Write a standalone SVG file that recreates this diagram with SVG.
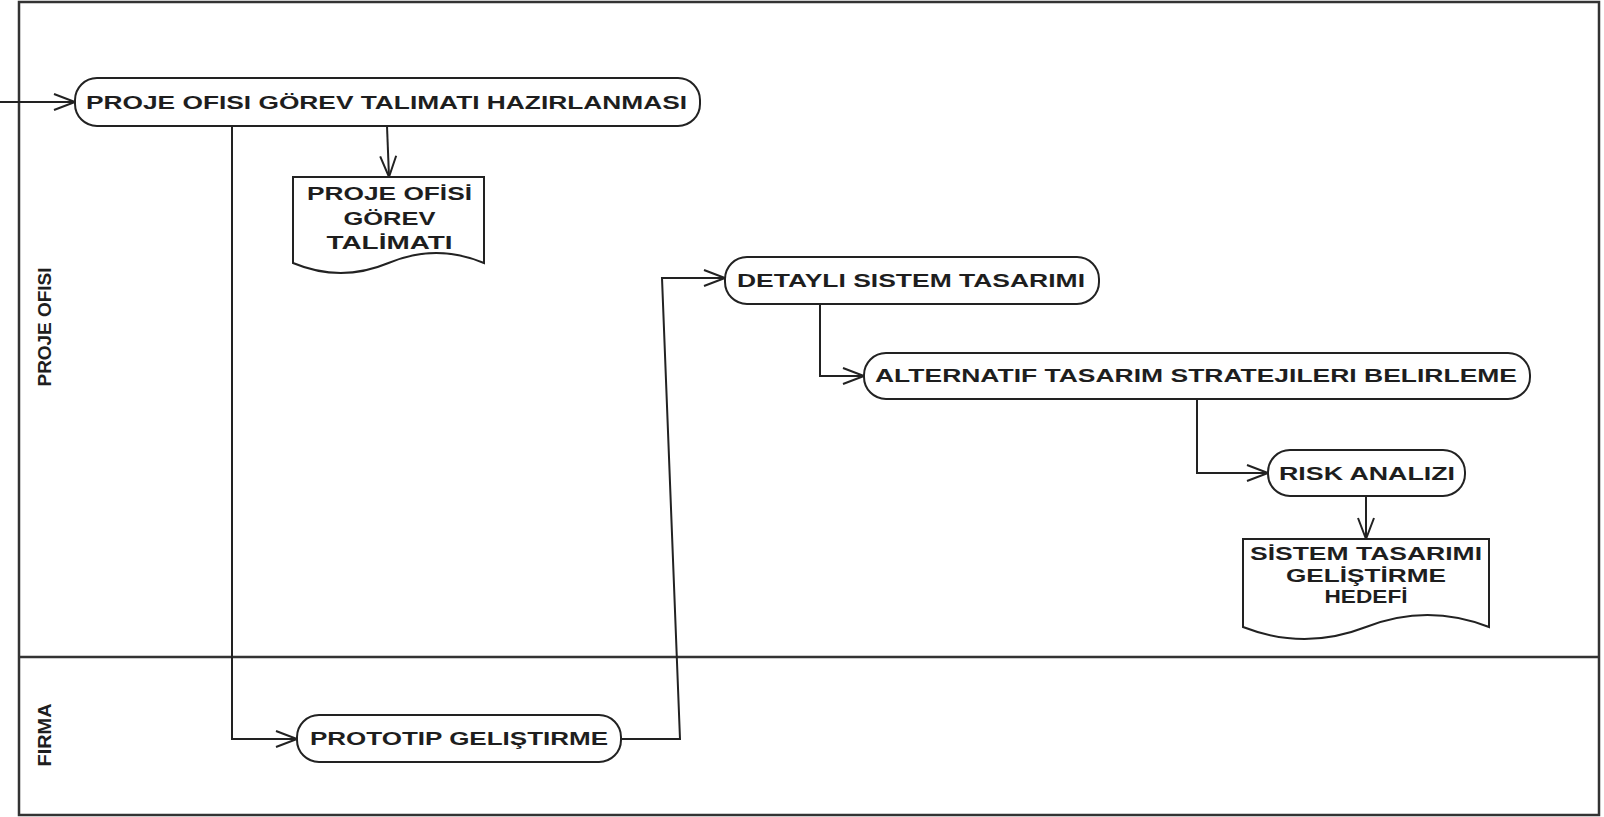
<svg xmlns="http://www.w3.org/2000/svg" width="1604" height="817" viewBox="0 0 1604 817">
<defs>
<marker id="arr" markerUnits="userSpaceOnUse" markerWidth="30" markerHeight="24" viewBox="-24 -12 30 24" refX="0" refY="0" orient="auto">
<path d="M-21,-8 L0,0 L-21,8" fill="none" stroke="#222" stroke-width="2"/>
</marker>
</defs>
<style>
.lane{fill:none;stroke:#333;stroke-width:2.5}
.node{fill:#fff;stroke:#222;stroke-width:2}
.t{font-family:"Liberation Sans",Arial,sans-serif;font-weight:bold;fill:#1e1e1e;text-anchor:middle}
.c{fill:none;stroke:#222;stroke-width:2;marker-end:url(#arr)}
.cl{fill:none;stroke:#222;stroke-width:2}
</style>
<rect width="1604" height="817" fill="#fff"/>
<g id="lanes">
<rect class="lane" x="19" y="2" width="1580" height="813"/>
<line class="lane" x1="19" y1="657" x2="1599" y2="657"/>
<text class="t" font-size="18" transform="translate(51,327) rotate(-90)" textLength="119" lengthAdjust="spacingAndGlyphs">PROJE OFISI</text>
<text class="t" font-size="18" transform="translate(51,735) rotate(-90)" textLength="63" lengthAdjust="spacingAndGlyphs">FIRMA</text>
</g>
<g id="connectors">
<path class="c" d="M0,102 H75"/>
<path class="c" d="M387,126 L389,177"/>
<path class="c" d="M232,126 V739 H297"/>
<path class="c" d="M621,739 H680 L662,278 H725"/>
<path class="c" d="M820,304 V376 H864"/>
<path class="c" d="M1197,399 V473 H1268"/>
<path class="c" d="M1366,496 V539"/>
</g>
<g id="n1">
<rect class="node" x="75" y="78" width="625" height="48" rx="22"/>
<text class="t" font-size="19" x="386.5" y="109" textLength="601" lengthAdjust="spacingAndGlyphs">PROJE OFISI GÖREV TALIMATI HAZIRLANMASI</text>
</g>
<g id="doc1">
<path class="node" d="M293,177 H484 V263 Q436.25,243 388.5,263 Q340.75,283 293,263 Z"/>
<text class="t" font-size="18" x="389.5" y="199.5" textLength="165" lengthAdjust="spacingAndGlyphs">PROJE OFİSİ</text>
<text class="t" font-size="18" x="389.5" y="224.5" textLength="92" lengthAdjust="spacingAndGlyphs">GÖREV</text>
<text class="t" font-size="18" x="389.5" y="248.5" textLength="126" lengthAdjust="spacingAndGlyphs">TALİMATI</text>
</g>
<g id="n_detayli">
<rect class="node" x="725" y="257" width="374" height="47" rx="22"/>
<text class="t" font-size="19" x="911" y="287" textLength="348" lengthAdjust="spacingAndGlyphs">DETAYLI SISTEM TASARIMI</text>
</g>
<g id="n_alternatif">
<rect class="node" x="864" y="353" width="666" height="46" rx="22"/>
<text class="t" font-size="19" x="1196" y="382" textLength="642" lengthAdjust="spacingAndGlyphs">ALTERNATIF TASARIM STRATEJILERI BELIRLEME</text>
</g>
<g id="n_risk">
<rect class="node" x="1268" y="450" width="197" height="46" rx="22"/>
<text class="t" font-size="19" x="1367" y="480" textLength="176" lengthAdjust="spacingAndGlyphs">RISK ANALIZI</text>
</g>
<g id="doc2">
<path class="node" d="M1243,539 H1489 V627 Q1427.5,603 1366,627 Q1304.5,651 1243,627 Z"/>
<text class="t" font-size="18" x="1366" y="559.5" textLength="232" lengthAdjust="spacingAndGlyphs">SİSTEM TASARIMI</text>
<text class="t" font-size="18" x="1366" y="581.5" textLength="160" lengthAdjust="spacingAndGlyphs">GELİŞTİRME</text>
<text class="t" font-size="18" x="1366" y="602.5" textLength="83" lengthAdjust="spacingAndGlyphs">HEDEFİ</text>
</g>
<g id="n_prototip">
<rect class="node" x="297" y="715" width="324" height="47" rx="22"/>
<text class="t" font-size="19" x="459" y="745" textLength="298" lengthAdjust="spacingAndGlyphs">PROTOTIP GELIŞTIRME</text>
</g>
</svg>
